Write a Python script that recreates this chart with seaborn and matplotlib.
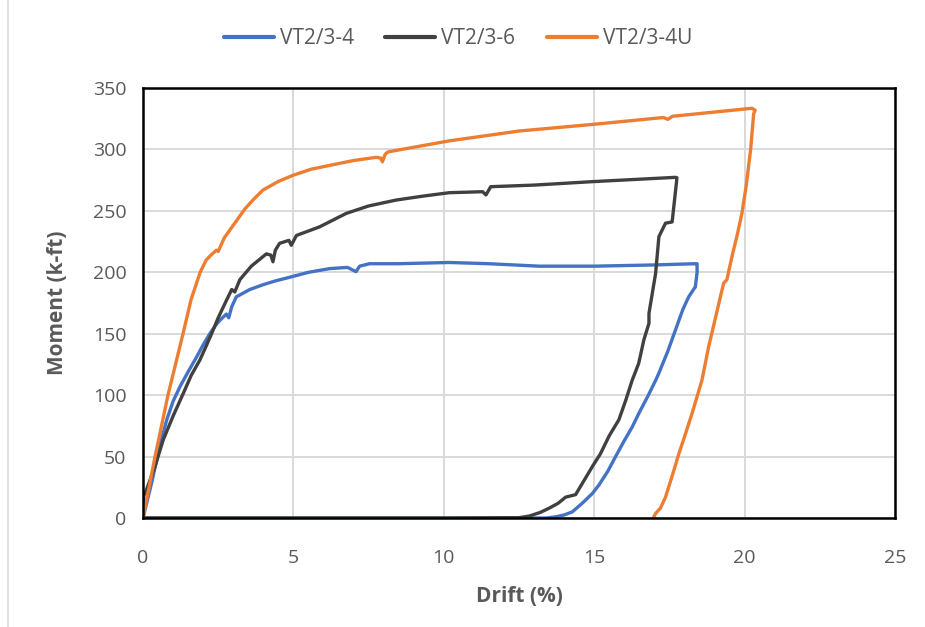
import numpy as np
import pandas as pd
import matplotlib
matplotlib.use("Agg")
import matplotlib.pyplot as plt
from matplotlib.lines import Line2D
import seaborn as sns

# ── Data ──────────────────────────────────────────────────────────────────────
SERIES = ["VT2/3-4", "VT2/3-6", "VT2/3-4U"]

drift_a = [0, 0.3, 0.55, 0.79, 1.0, 1.23, 1.5, 1.78, 2.0, 2.22, 2.45, 2.6, 2.77,
           2.85, 2.95, 3.1, 3.55, 4.0, 4.4, 4.88, 5.5, 6.2, 6.8, 7.08, 7.2, 7.53,
           8.5, 10.18, 11.5, 13.17, 15.0, 17.0, 18.36, 18.42, 18.42, 18.36, 18.3,
           18.14, 17.95, 17.7, 17.45, 17.15, 17.04, 16.8, 16.48, 16.26, 16.0,
           15.71, 15.45, 15.16, 14.94, 14.6, 14.27, 14.0, 13.72, 13.4, 10.0, 5.0,
           0.0]
moment_a = [0, 30, 58, 80, 95, 107, 119, 131, 141, 150, 158, 162, 166,
            163, 172, 180, 186, 190, 193, 196, 200, 203, 204, 200.5, 205, 207,
            207, 208, 207, 205, 205, 206, 207, 207, 200, 188, 186,
            180, 170, 153, 136, 118, 112, 100, 85, 74, 63,
            50, 38, 27, 20, 12, 5, 2.5, 1, 0, 0, 0,
            0]

drift_b = [0, 0.02, 0.1, 0.4, 0.67, 1.0, 1.34, 1.6, 1.89, 2.1, 2.28, 2.5, 2.77,
           2.95, 3.05, 3.22, 3.6, 4.1, 4.25, 4.32, 4.4, 4.54, 4.85, 4.93, 5.1,
           5.87, 6.76, 7.5, 8.41, 9.3, 10.18, 11.29, 11.4, 11.56, 13.0, 14.94,
           17.7, 17.75, 17.72, 17.59, 17.37, 17.15, 17.04, 16.82, 16.82, 16.65,
           16.48, 16.26, 16.05, 15.82, 15.5, 15.2, 14.94, 14.6, 14.38, 14.05,
           13.8, 13.5, 13.2, 12.84, 12.5, 10.0, 5.0, 0.0]
moment_b = [0, 18, 22, 42, 63.5, 83, 101.5, 116, 128.6, 140, 150, 163, 177,
            186, 184, 194, 205, 215, 214, 208.6, 218, 223.6, 226, 222, 230,
            237, 248, 254, 258.8, 262, 264.8, 265.6, 263, 269.7, 271, 273.8,
            277.3, 277, 270, 241, 240, 229, 199, 166.6, 158.5, 145,
            126, 112, 96, 80, 67, 52, 42, 28, 19, 17,
            12, 8, 4.5, 1.6, 0.3, 0, 0, 0]

drift_c = [0, 0.4, 0.83, 1.33, 1.6, 1.9, 2.1, 2.3, 2.44, 2.5, 2.7, 3.05, 3.4,
           3.7, 3.99, 4.5, 4.99, 5.6, 6.2, 7.0, 7.75, 7.9, 7.96, 8.05, 8.14,
           10.18, 12.5, 15.0, 17.3, 17.45, 17.6, 20.24, 20.35, 20.3, 20.2,
           20.05, 19.91, 19.75, 19.6, 19.41, 19.3, 19.05, 18.8, 18.58, 18.25,
           18.0, 17.81, 17.6, 17.37, 17.2, 17.05, 16.98, 16.98]
moment_c = [0, 50, 100, 150, 178, 200, 210, 215, 218, 217, 228, 240, 252,
            260, 267, 274, 279, 284, 287, 291, 293.6, 293, 290, 296, 298,
            307, 315, 320.5, 326, 324.5, 327, 333.5, 332, 329, 300,
            270, 248, 230, 215, 194, 191, 165, 139, 112, 85,
            66, 52, 35, 17, 8, 4, 1, 0]

COLORS = ["#4472C4", "#404040", "#ED7D31"]
GREY = "#595959"

df = pd.concat([
    pd.DataFrame({"Drift": d, "Moment": m, "Specimen": s, "order": range(len(d))})
    for d, m, s in zip([drift_a, drift_b, drift_c],
                       [moment_a, moment_b, moment_c], SERIES)
], ignore_index=True)

sns.set_theme(style="white")
plt.rcParams["font.family"] = ["Open Sans", "DejaVu Sans"]

fig = plt.figure(figsize=(9.25, 6.27), dpi=100)
ax = fig.add_axes([0.1546, 0.1738, 0.8130, 0.6858])

sns.lineplot(data=df, x="Drift", y="Moment", hue="Specimen", hue_order=SERIES,
             palette=COLORS, sort=False, estimator=None, units="Specimen",
             linewidth=2.4, ax=ax, legend=False)

ax.set_xlim(0, 25)
ax.set_ylim(0, 350)
ax.set_xticks(range(0, 26, 5))
ax.set_yticks(range(0, 351, 50))
ax.grid(True, color="#D9D9D9", linewidth=1.4)
ax.set_axisbelow(True)
for sp in ax.spines.values():
    sp.set_visible(True)
    sp.set_color("black")
    sp.set_linewidth(1.8)

ax.tick_params(axis="both", length=0, labelsize=14, labelcolor=GREY)
ax.tick_params(axis="x", pad=22)
ax.tick_params(axis="y", pad=12)
ax.set_xlabel("Drift (%)", fontsize=15, fontweight="bold", color=GREY, labelpad=14)
ax.set_ylabel("Moment (k-ft)", fontsize=15, fontweight="bold", color=GREY, labelpad=18)

handles = [Line2D([], [], color=c, linewidth=3) for c in COLORS]
fig.legend(handles, SERIES, loc="center", bbox_to_anchor=(0.495, 0.938), ncol=3,
           frameon=False, fontsize=15, labelcolor=GREY, handlelength=2.4,
           handletextpad=0.3, columnspacing=1.5)

fig.add_artist(Line2D([0.009, 0.009], [0, 1], color="#D9D9D9", linewidth=1.2,
                      transform=fig.transFigure))

fig.savefig("out.png", dpi=100)
plt.close()
